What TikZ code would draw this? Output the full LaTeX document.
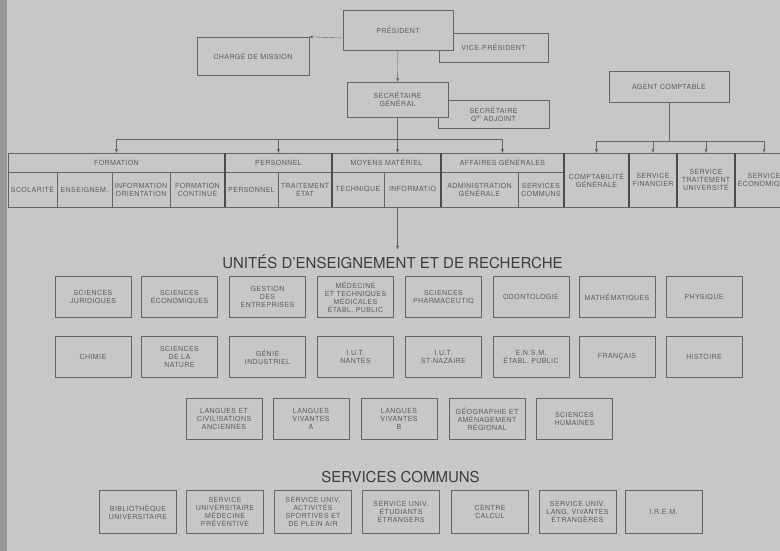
\documentclass[tikz,border=0pt]{standalone}
\usepackage{fontspec}
\setmainfont{TeX Gyre Heros}
\usetikzlibrary{arrows.meta}
\definecolor{paper}{RGB}{199,199,197}
\definecolor{gutter}{RGB}{150,150,150}
\definecolor{ink}{RGB}{92,92,92}
\definecolor{linec}{RGB}{100,100,100}
\definecolor{title}{RGB}{60,60,60}
\newcommand{\boxfont}{\fontsize{7}{8}\selectfont\addfontfeatures{LetterSpace=6}}
\begin{document}
\begin{tikzpicture}[x=1pt, y=-1pt,
        >={Stealth[length=4pt, width=3pt]},
        box/.style = {draw=linec, fill=paper, text=ink, font=\boxfont, align=center, inner sep=1pt},
        uer/.style = {box, minimum width=76, minimum height=41},
        serv/.style = {box, minimum width=77, minimum height=43},
        cell/.style = {draw=linec, text=ink, font=\boxfont, align=center, inner sep=0.5pt},
        sep/.style = {draw=black!70, line width=2pt},
        link/.style = {draw=linec, thin},
        head/.style = {text=title, font=\fontsize{15}{18}\selectfont}]

    \useasboundingbox (0,0) rectangle (780,551);
    \clip (0,0) rectangle (780,551);
    \fill[paper] (0,0) rectangle (780,551);
    \fill[gutter] (0,0) rectangle (7,551);

    % Direction
    \node[box, minimum width=109, minimum height=29] (vice) at (493.5,47.5) {VICE-PRÉSIDENT};
    \node[box, minimum width=110, minimum height=40] (pres) at (398,30) {PRÉSIDENT};
    \node[box, minimum width=112, minimum height=38] (charge) at (253,56) {CHARGÉ DE MISSION};
    \node[box, minimum width=111, minimum height=28] (adjoint) at (493.5,114) {SECRÉTAIRE\\G\textsuperscript{al} ADJOINT};
    \node[box, minimum width=101, minimum height=35] (secgen) at (397.5,99.5) {SECRÉTAIRE\\GÉNÉRAL};
    \node[box, minimum width=120, minimum height=31] (agent) at (669,86.5) {AGENT COMPTABLE};

    \draw[link, ->] ([yshift=-8pt]pres.west) -- (charge.north east);
    \draw[link, ->] (pres) -- (secgen);

    % Services centraux, top row
    \node[cell, minimum width=217, minimum height=19] (formation) at (116.5,162.5) {FORMATION};
    \node[cell, minimum width=107, minimum height=19] (personnel) at (278.5,162.5) {PERSONNEL};
    \node[cell, minimum width=109, minimum height=19] (moyens) at (386.5,162.5) {MOYENS MATÉRIEL};
    \node[cell, minimum width=123, minimum height=19] (affaires) at (502.5,162.5) {AFFAIRES GÉNÉRALES};

    % Services centraux, bottom row
    \node[cell, minimum width=49, minimum height=35] (scol) at (32.5,189.5) {SCOLARITÉ};
    \node[cell, minimum width=55, minimum height=35] (enseign) at (84.5,189.5) {ENSEIGNEM.};
    \node[cell, minimum width=58, minimum height=35] (info) at (141,189.5) {INFORMATION\\ORIENTATION};
    \node[cell, minimum width=55, minimum height=35] (fcont) at (197.5,189.5) {FORMATION\\CONTINUE};
    \node[cell, minimum width=53, minimum height=35] (pers) at (251.5,189.5) {PERSONNEL};
    \node[cell, minimum width=54, minimum height=35] (traitetat) at (305,189.5) {TRAITEMENT\\ÉTAT};
    \node[cell, minimum width=52, minimum height=35] (techn) at (358,189.5) {TECHNIQUE};
    \node[cell, minimum width=57, minimum height=35] (informatiq) at (412.5,189.5) {INFORMATIQ};
    \node[cell, minimum width=77, minimum height=35] (admin) at (479.5,189.5) {ADMINISTRATION\\GÉNÉRALE};
    \node[cell, minimum width=46, minimum height=35] (servcom) at (541,189.5) {SERVICES\\COMMUNS};

    % Agence comptable
    \node[cell, minimum width=65, minimum height=54] (compta) at (596.5,180) {COMPTABILITÉ\\GÉNÉRALE};
    \node[cell, minimum width=48, minimum height=54] (financier) at (653,180) {SERVICE\\FINANCIER};
    \node[cell, minimum width=58, minimum height=54] (traitu) at (706,180) {SERVICE\\TRAITEMENT\\UNIVERSITÉ};
    \node[cell, minimum width=58, minimum height=54] (econ) at (764,180) {SERVICE\\ÉCONOMIQUE};

    % Thick separators
    \draw[sep] (formation.north east) -- (fcont.south east);
    \draw[sep] (personnel.north east) -- (traitetat.south east);
    \draw[sep] (moyens.north east) -- (informatiq.south east);
    \draw[sep] (affaires.north east) -- (servcom.south east);
    \foreach \n in {compta, financier, traitu}
        \draw[sep] (\n.north east) -- (\n.south east);

    % Buses
    \coordinate (bus) at (0,139);
    \coordinate (cbus) at (0,141);
    \draw[link] (secgen.south) -- (secgen |- bus);
    \draw[link] (formation.north |- bus) -- (affaires.north |- bus);
    \foreach \n in {formation, personnel, affaires}
        \draw[link, ->] (\n.north |- bus) -- (\n.north);
    \draw[link, ->] (secgen |- bus) -- (secgen |- moyens.north);
    \draw[link] (agent.south) -- (agent |- cbus);
    \draw[link] (compta.north |- cbus) -- (econ.north |- cbus);
    \foreach \n in {compta, financier, traitu, econ}
        \draw[link, ->] (\n.north |- cbus) -- (\n.north);

    % UER
    \node[head] (uer) at (392.5,262) {UNITÉS  D’ENSEIGNEMENT  ET  DE  RECHERCHE};
    \draw[link, ->] (secgen |- informatiq.south) -- ([yshift=2pt]secgen |- uer.north);

    \node[uer] (u1) at (93,297) {SCIENCES\\JURIDIQUES};
    \node[uer] (u2) at (179.5,297) {SCIENCES\\ÉCONOMIQUES};
    \node[uer] (u3) at (267.5,297) {GESTION\\DES\\ENTREPRISES};
    \node[uer] (u4) at (355.5,297) {MÉDECINE\\ET TECHNIQUES\\MÉDICALES\\ÉTABL. PUBLIC};
    \node[uer] (u5) at (443.5,297) {SCIENCES\\PHARMACEUTIQ};
    \node[uer] (u6) at (531,297) {ODONTOLOGIE};
    \node[uer] (u7) at (617,297) {MATHÉMATIQUES};
    \node[uer] (u8) at (704,297) {PHYSIQUE};

    \node[uer] (u9) at (93,357) {CHIMIE};
    \node[uer] (u10) at (179.5,357) {SCIENCES\\DE LA\\NATURE};
    \node[uer] (u11) at (267.5,357) {GÉNIE\\INDUSTRIEL};
    \node[uer] (u12) at (355.5,357) {I.U.T.\\NANTES};
    \node[uer] (u13) at (443.5,357) {I.U.T.\\ST-NAZAIRE};
    \node[uer] (u14) at (531,357) {E.N.S.M.\\ÉTABL. PUBLIC};
    \node[uer] (u15) at (617,357) {FRANÇAIS};
    \node[uer] (u16) at (704,357) {HISTOIRE};

    \node[uer] (u17) at (224,419) {LANGUES ET\\CIVILISATIONS\\ANCIENNES};
    \node[uer] (u18) at (311,419) {LANGUES\\VIVANTES\\A};
    \node[uer] (u19) at (399,419) {LANGUES\\VIVANTES\\B};
    \node[uer] (u20) at (487,419) {GÉOGRAPHIE ET\\AMÉNAGEMENT\\RÉGIONAL};
    \node[uer] (u21) at (574.5,419) {SCIENCES\\HUMAINES};

    % Services communs
    \node[head] (sc) at (400.5,477) {SERVICES  COMMUNS};

    \node[serv] (s1) at (138,512) {BIBLIOTHÈQUE\\UNIVERSITAIRE};
    \node[serv] (s2) at (225,512) {SERVICE\\UNIVERSITAIRE\\MÉDECINE\\PRÉVENTIVE};
    \node[serv] (s3) at (313,512) {SERVICE UNIV.\\ACTIVITÉS\\SPORTIVES ET\\DE PLEIN AIR};
    \node[serv] (s4) at (401,512) {SERVICE UNIV.\\ÉTUDIANTS\\ÉTRANGERS};
    \node[serv] (s5) at (490,512) {CENTRE\\CALCUL};
    \node[serv] (s6) at (577.5,512) {SERVICE UNIV.\\LANG. VIVANTES\\ÉTRANGÈRES};
    \node[serv] (s7) at (663.5,512) {I.R.E.M.};

\end{tikzpicture}
\end{document}
